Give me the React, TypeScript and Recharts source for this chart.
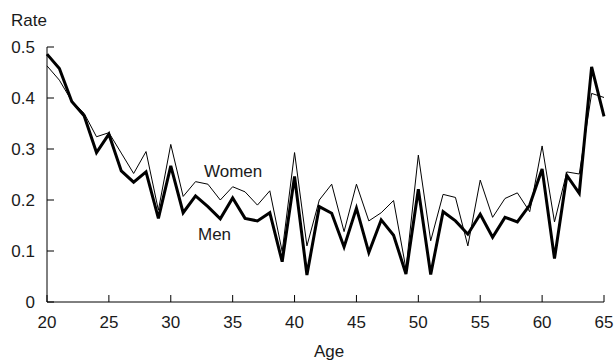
import { LineChart, Line, XAxis, YAxis } from 'recharts'

const ages = [
    20, 21, 22, 23, 24, 25, 26, 27, 28, 29, 30, 31, 32, 33, 34, 35, 36, 37, 38, 39, 40, 41, 42,
    43, 44, 45, 46, 47, 48, 49, 50, 51, 52, 53, 54, 55, 56, 57, 58, 59, 60, 61, 62, 63, 64, 65,
]

const men = [
    0.486, 0.458, 0.393, 0.365, 0.293, 0.329, 0.257, 0.235, 0.255, 0.164, 0.267, 0.175, 0.208,
    0.187, 0.163, 0.204, 0.164, 0.159, 0.175, 0.079, 0.246, 0.053, 0.187, 0.174, 0.108, 0.184,
    0.097, 0.161, 0.131, 0.055, 0.221, 0.054, 0.177, 0.159, 0.133, 0.172, 0.127, 0.166, 0.157,
    0.19, 0.261, 0.085, 0.248, 0.213, 0.461, 0.364,
]

const women = [
    0.463, 0.435, 0.394, 0.37, 0.324, 0.332, 0.292, 0.252, 0.295, 0.18, 0.309, 0.207, 0.236,
    0.231, 0.2, 0.226, 0.216, 0.19, 0.218, 0.099, 0.293, 0.11, 0.2, 0.231, 0.138, 0.231, 0.159,
    0.175, 0.199, 0.065, 0.288, 0.12, 0.211, 0.205, 0.11, 0.239, 0.166, 0.203, 0.214, 0.177,
    0.306, 0.157, 0.255, 0.251, 0.409, 0.401,
]

const xTicks = [20, 25, 30, 35, 40, 45, 50, 55, 60, 65]
const yTicks = [0, 0.1, 0.2, 0.3, 0.4, 0.5]

const data = ages.map((age, i) => ({ age, men: men[i], women: women[i] }))

const FONT = '"Liberation Sans", Arial, sans-serif'
const TEXT = '#1a1a1a'

// ticks point into the plot, so draw them by hand
const XTick = ({ x, y, payload }: any) => (
    <g>
        <line x1={x} x2={x} y1={y} y2={y - 7} stroke="#000" strokeWidth={1} />
        <text x={x} y={y + 26} textAnchor="middle" fontSize={17} fontFamily={FONT} fill={TEXT}>
            {payload.value}
        </text>
    </g>
)

const YTick = ({ x, y, payload }: any) => (
    <g>
        <line x1={x} x2={x + 7} y1={y} y2={y} stroke="#000" strokeWidth={1} />
        <text x={x - 12} y={y + 6} textAnchor="end" fontSize={17} fontFamily={FONT} fill={TEXT}>
            {payload.value}
        </text>
    </g>
)

export default function App() {
    return (
        <div style={{ position: 'absolute', left: 0, top: 0, width: 614, height: 362, background: '#fff' }}>
            <LineChart width={614} height={362} data={data} margin={{ top: 47, right: 10, bottom: 0, left: 0 }}>
                <XAxis
                    dataKey="age"
                    type="number"
                    domain={[20, 65]}
                    ticks={xTicks}
                    interval={0}
                    height={60}
                    tickSize={0}
                    tickMargin={0}
                    tickLine={false}
                    axisLine={{ stroke: '#000', strokeWidth: 1 }}
                    tick={<XTick />}
                />
                <YAxis
                    type="number"
                    domain={[0, 0.5]}
                    ticks={yTicks}
                    interval={0}
                    width={47}
                    tickSize={0}
                    tickMargin={0}
                    tickLine={false}
                    axisLine={{ stroke: '#000', strokeWidth: 1 }}
                    tick={<YTick />}
                />
                <Line dataKey="women" type="linear" stroke="#000" strokeWidth={1} dot={false} isAnimationActive={false} />
                <Line dataKey="men" type="linear" stroke="#000" strokeWidth={3} dot={false} isAnimationActive={false} />
            </LineChart>
            <svg width={614} height={362} style={{ position: 'absolute', left: 0, top: 0, pointerEvents: 'none' }}>
                <g fontFamily={FONT} fontSize={17} fill={TEXT}>
                    <text x={11} y={26}>Rate</text>
                    <text x={204} y={177}>Women</text>
                    <text x={198} y={240}>Men</text>
                    <text x={329} y={357} textAnchor="middle">Age</text>
                </g>
            </svg>
        </div>
    )
}
